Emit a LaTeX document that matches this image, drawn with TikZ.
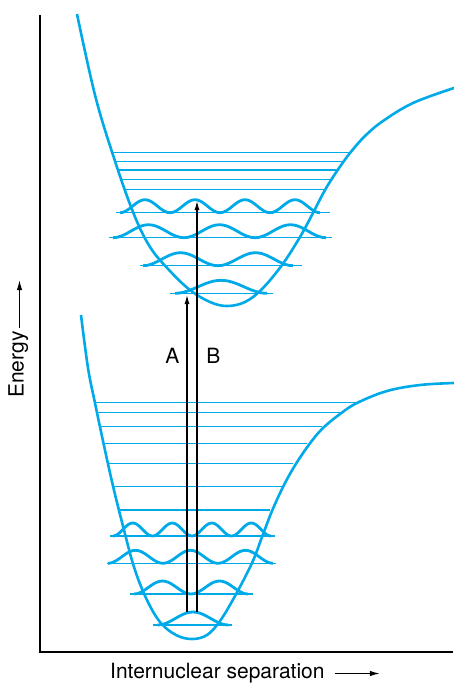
\documentclass[tikz,border=0pt]{standalone}
\usepackage{fontspec}
\setmainfont{TeX Gyre Heros}
\usetikzlibrary{arrows.meta}
\definecolor{morsecyan}{RGB}{0,170,232}
\begin{document}
\begin{tikzpicture}[x=1pt,y=-1pt,
    potential/.style={morsecyan,line width=2.6pt},
    level/.style={morsecyan,line width=1.3pt},
    wave/.style={morsecyan,line width=2.8pt,line join=round},
    transition/.style={line width=1.1pt,-{Latex[length=9pt,width=5pt]}},
    axis/.style={line width=1.4pt},
    axisarrow/.style={line width=1.1pt,-{Latex[length=10pt,width=5.5pt]}},
    label/.style={inner sep=0pt,font=\fontsize{21}{25}\selectfont}]
  \useasboundingbox (0,0) rectangle (453,683);

  % --- Parameters ---
  \def\wh{13}   % height of the |psi|^2 bumps above their level

  % --- Axes ---
  \draw[axis] (40,15) -- (40,652) -- (453,652);
  \node[label,anchor=base west] (xlab) at (110,678) {Internuclear separation};
  \draw[axisarrow] ([xshift=10pt,yshift=4.5pt]xlab.base east) -- ++(45,0);
  \node[label,rotate=90,anchor=base west] (elab) at (23.5,398) {Energy};
  \draw[axisarrow] ([xshift=-4pt,yshift=3pt]elab.base east) -- ++(0,-48);

  % =========================
  % Lower (ground) state
  % =========================
  \draw[potential] plot[smooth,tension=0.6] coordinates {
      (81,315) (88,368) (95,403) (103,441) (113,486) (124,530) (134,567)
      (146,598) (160,622) (176,635) (192,639) (207,635) (220,621) (235,596)
      (252,563) (262,537) (272,511) (283,487) (294,467) (308,446) (322,429)
      (340,414) (357,403) (387,391) (420,385) (454,383)};

  % --- plain levels ---
  \draw[level] (95,402.7) -- (357,402.7);
  \draw[level] (97,412.7) -- (340,412.7);
  \draw[level] (100,426.7) -- (322,426.7);
  \draw[level] (103,443.3) -- (307,443.3);
  \draw[level] (108,463.3) -- (293,463.3);
  \draw[level] (113,486.3) -- (282,486.3);
  \draw[level] (119,510) -- (270,510);

  % --- levels with |psi|^2 ---
  \draw[level] (110,536) -- (275,536);
  \draw[level] (107,563.3) -- (276,563.3);
  \draw[level] (130,594) -- (253,594);
  \draw[level] (153,625) -- (232,625);
  \draw[wave] plot[domain=113:271,samples=81] (\x,{536-\wh*(sin((\x-113)/39.5*180))^2});
  \draw[wave] plot[domain=108:273,samples=61] (\x,{563.3-\wh*(sin((\x-108)/55*180))^2});
  \draw[wave] plot[domain=134:248,samples=41] (\x,{594-\wh*(sin((\x-134)/57*180))^2});
  \draw[wave] plot[domain=157.5:228.5,samples=25] (\x,{625-\wh*(sin((\x-157.5)/71*180))^2});

  % =========================
  % Upper (excited) state
  % =========================
  \draw[potential] plot[smooth,tension=0.6] coordinates {
      (77,14) (95,95) (113,155) (133,212) (150,247)
      (170,271) (190,290) (210,302) (227,306) (245,302) (262,289) (282,265)
      (300,237) (313,213) (325,190) (337,171) (350,153) (365,136) (383,121)
      (413,103) (454,88)};

  % --- plain levels ---
  \draw[level] (113,152.7) -- (350,152.7);
  \draw[level] (116,161.7) -- (343,161.7);
  \draw[level] (118,170) -- (337,170);
  \draw[level] (122,179.3) -- (332,179.3);
  \draw[level] (126,189.3) -- (325,189.3);

  % --- levels with |psi|^2 ---
  \draw[level] (116,212.7) -- (330,212.7);
  \draw[level] (109,237.7) -- (332,237.7);
  \draw[level] (140,265.7) -- (302,265.7);
  \draw[level] (170,293.3) -- (273,293.3);
  \draw[wave] plot[domain=120:320,samples=81] (\x,{212.7-\wh*(sin((\x-120)/50*180))^2});
  \draw[wave] plot[domain=113:326,samples=61] (\x,{237.7-\wh*(sin((\x-113)/71*180))^2});
  \draw[wave] plot[domain=143:293,samples=41] (\x,{265.7-\wh*(sin((\x-143)/75*180))^2});
  \draw[wave] plot[domain=175:267,samples=25] (\x,{293.3-\wh*(sin((\x-175)/92*180))^2});

  % --- Transitions A and B ---
  \coordinate (Astart) at (187,612);
  \coordinate (Aend)   at (187,295);
  \coordinate (Bstart) at (197,612);
  \coordinate (Bend)   at (197,201);
  \draw[transition] (Astart) -- (Aend);
  \draw[transition] (Bstart) -- (Bend);
  \node[label] (labA) at (172.5,355.5) {A};
  \node[label] (labB) at (213.5,355.5) {B};
\end{tikzpicture}
\end{document}
